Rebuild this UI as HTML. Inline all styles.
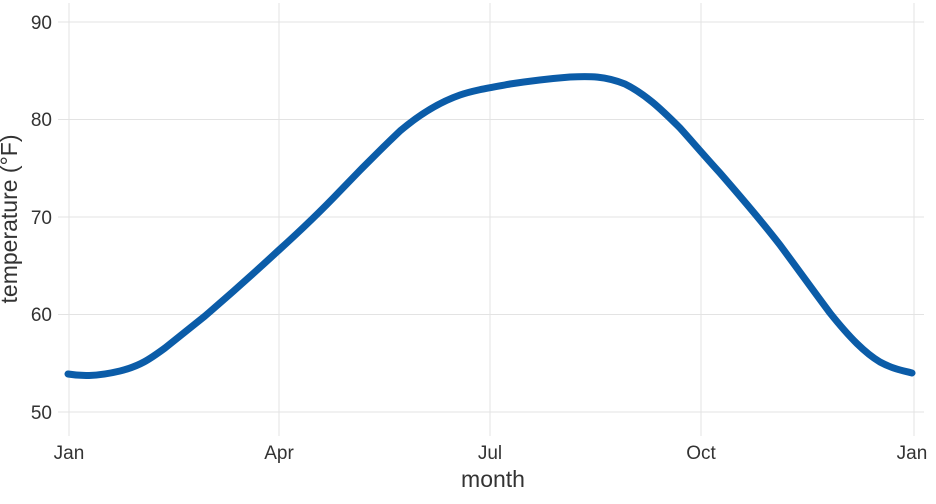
<!DOCTYPE html>
<html><head><style>body{margin:0;background:#fff}svg{display:block}text{font-family:"Liberation Sans",sans-serif;fill:#333}</style></head><body>
<svg width="936" height="504" viewBox="0 0 936 504">
<g stroke="#e3e3e3" stroke-width="1">
<line x1="58" x2="924" y1="22" y2="22"/><line x1="58" x2="924" y1="119.5" y2="119.5"/><line x1="58" x2="924" y1="217" y2="217"/><line x1="58" x2="924" y1="314.5" y2="314.5"/><line x1="58" x2="924" y1="412" y2="412"/>
<line x1="69" x2="69" y1="3" y2="436"/><line x1="279" x2="279" y1="3" y2="436"/><line x1="490" x2="490" y1="3" y2="436"/><line x1="701" x2="701" y1="3" y2="436"/><line x1="914" x2="914" y1="3" y2="436"/>
</g>
<path d="M68,374 C80,376 95,377 120,371 C140,366 150,359 165,348 C180,336 195,324 205,316 C220,303 240,286 279,250 C300,231 320,212 340,191 C360,170 380,150 400,131 C420,114 440,102 460,95 C475,90 489,88 510,84 C530,81 545,79 570,77 C590,76 605,76 625,84 C645,94 660,108 680,128 C690,139 701,152 720,173 C740,196 760,219 780,245 C800,272 815,293 830,313 C850,338 865,353 880,362 C895,370 905,371 912,373" fill="none" stroke="#0b5ca8" stroke-width="7" stroke-linecap="round" stroke-linejoin="round"/>
<g font-size="19" text-anchor="end">
<text x="52" y="29">90</text><text x="52" y="126">80</text><text x="52" y="224">70</text><text x="52" y="321">60</text><text x="52" y="419">50</text>
</g>
<g font-size="19" text-anchor="middle">
<text x="69" y="459">Jan</text><text x="279" y="459">Apr</text><text x="490" y="459">Jul</text><text x="701" y="459">Oct</text><text x="912" y="459">Jan</text>
</g>
<text x="493" y="487" font-size="23" text-anchor="middle">month</text>
<text transform="translate(17,219) rotate(-90)" font-size="23" text-anchor="middle">temperature (°F)</text>
</svg>
</body></html>
